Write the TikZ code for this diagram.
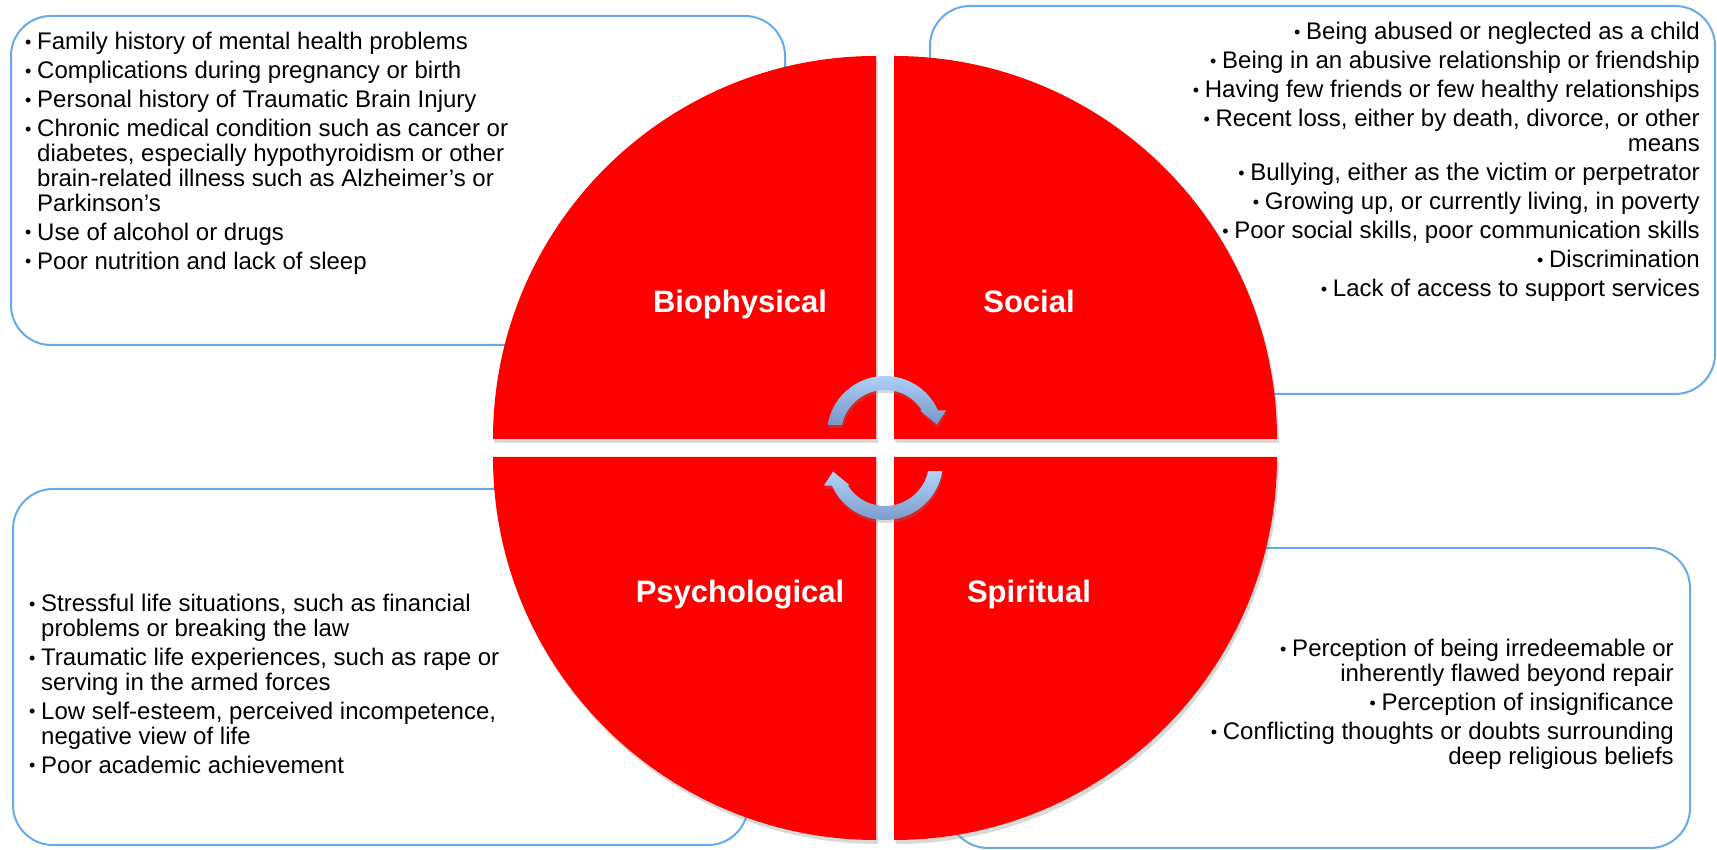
\documentclass[tikz,border=0pt]{standalone}
\usepackage{fontspec}
\setmainfont{Liberation Sans}
\usetikzlibrary{shadows}
\definecolor{pieRed}{RGB}{255,0,0}
\definecolor{boxBlue}{RGB}{102,170,236}
\definecolor{cycleTop}{RGB}{178,212,252}
\definecolor{cycleBot}{RGB}{120,150,196}
\newcommand{\dotmark}{\raisebox{1.5pt}{\scalebox{.75}{•}}}
\newcommand{\lbul}{\makebox[12pt][l]{\dotmark}}
\newcommand{\lcont}{\hspace*{12pt}}
\newcommand{\leftlist}[1]{\parbox[t]{600pt}{\raggedright #1}}
\newcommand{\rightlist}[1]{\parbox[t]{600pt}{\raggedleft #1}}
\tikzset{quarter/.style={fill=pieRed, drop shadow={shadow xshift=2pt, shadow yshift=-4pt, opacity=.3}},
         riskbox/.style={draw=boxBlue, line width=2pt, rounded corners=40pt},
         risklist/.style={inner sep=0pt, font=\fontsize{24}{24.7}\selectfont},
         factor/.style={inner sep=0pt, text=white, font=\fontsize{31}{31}\selectfont\bfseries},
         cyclearrow/.style={top color=cycleTop, bottom color=cycleBot, drop shadow={shadow xshift=1pt, shadow yshift=-3pt, opacity=.3}},
        }

\begin{document}
\begin{tikzpicture}[x=1pt,y=1pt]
        \useasboundingbox (0,0) rectangle (1717,850);

        \draw[riskbox](11,505)rectangle(785,834);
        \draw[riskbox](930,456)rectangle(1715,844);
        \draw[riskbox](13,5)rectangle(748,361);
        \draw[riskbox](948,2)rectangle(1690,302);

        \node[risklist, anchor=base west](bioRisks)at(25,800){\leftlist{%
            \lbul Family history of mental health problems\\[4.3pt]
            \lbul Complications during pregnancy or birth\\[4.3pt]
            \lbul Personal history of Traumatic Brain Injury\\[4.3pt]
            \lbul Chronic medical condition such as cancer or\\
            \lcont diabetes, especially hypothyroidism or other\\
            \lcont brain-related illness such as Alzheimer’s or\\
            \lcont Parkinson’s\\[4.3pt]
            \lbul Use of alcohol or drugs\\[4.3pt]
            \lbul Poor nutrition and lack of sleep}};
        \node[risklist, anchor=base east](socRisks)at(1700,810){\rightlist{%
            \lbul Being abused or neglected as a child\\[4.3pt]
            \lbul Being in an abusive relationship or friendship\\[4.3pt]
            \lbul Having few friends or few healthy relationships\\[4.3pt]
            \lbul Recent loss, either by death, divorce, or other\\
            means\\[4.3pt]
            \lbul Bullying, either as the victim or perpetrator\\[4.3pt]
            \lbul Growing up, or currently living, in poverty\\[4.3pt]
            \lbul Poor social skills, poor communication skills\\[4.3pt]
            \lbul Discrimination\\[4.3pt]
            \lbul Lack of access to support services}};
        \node[risklist, anchor=base west](psyRisks)at(29,238){\leftlist{%
            \lbul Stressful life situations, such as financial\\
            \lcont problems or breaking the law\\[4.3pt]
            \lbul Traumatic life experiences, such as rape or\\
            \lcont serving in the armed forces\\[4.3pt]
            \lbul Low self-esteem, perceived incompetence,\\
            \lcont negative view of life\\[4.3pt]
            \lbul Poor academic achievement}};
        \node[risklist, anchor=base east](spiRisks)at(1674,193){\rightlist{%
            \lbul Perception of being irredeemable or\\
            inherently flawed beyond repair\\[4.3pt]
            \lbul Perception of insignificance\\[4.3pt]
            \lbul Conflicting thoughts or doubts surrounding\\
            deep religious beliefs}};

        \fill[quarter](876,411)--(493,411)arc[start angle=180,end angle=90,radius=383]--cycle;
        \fill[quarter](894,411)--(894,794)arc[start angle=90,end angle=0,radius=383]--cycle;
        \fill[quarter](876,393)--(876,10)arc[start angle=270,end angle=180,radius=383]--cycle;
        \fill[quarter](894,393)--(1277,393)arc[start angle=0,end angle=-90,radius=383]--cycle;

        \node[factor, anchor=base](bio)at(740,537){Biophysical};
        \node[factor, anchor=base](soc)at(1029,537){Social};
        \node[factor, anchor=base](psy)at(740,247){Psychological};
        \node[factor, anchor=base](spi)at(1029,247){Spiritual};

        \begin{scope}[shift={(885,416)}]
            \shade[cyclearrow](171:58)arc[start angle=171,end angle=24,radius=58]
                --(61,23.5)--(52,9.5)--(35,23.5)
                --(32.3:44)arc[start angle=32.3,end angle=168,radius=44]--cycle;
        \end{scope}
        \begin{scope}[shift={(885,388)}]
            \shade[cyclearrow](351:58)arc[start angle=351,end angle=204,radius=58]
                --(-61,-23.5)--(-52,-9.5)--(-35,-23.5)
                --(212.3:44)arc[start angle=212.3,end angle=348,radius=44]--cycle;
        \end{scope}
    \end{tikzpicture}
\end{document}
